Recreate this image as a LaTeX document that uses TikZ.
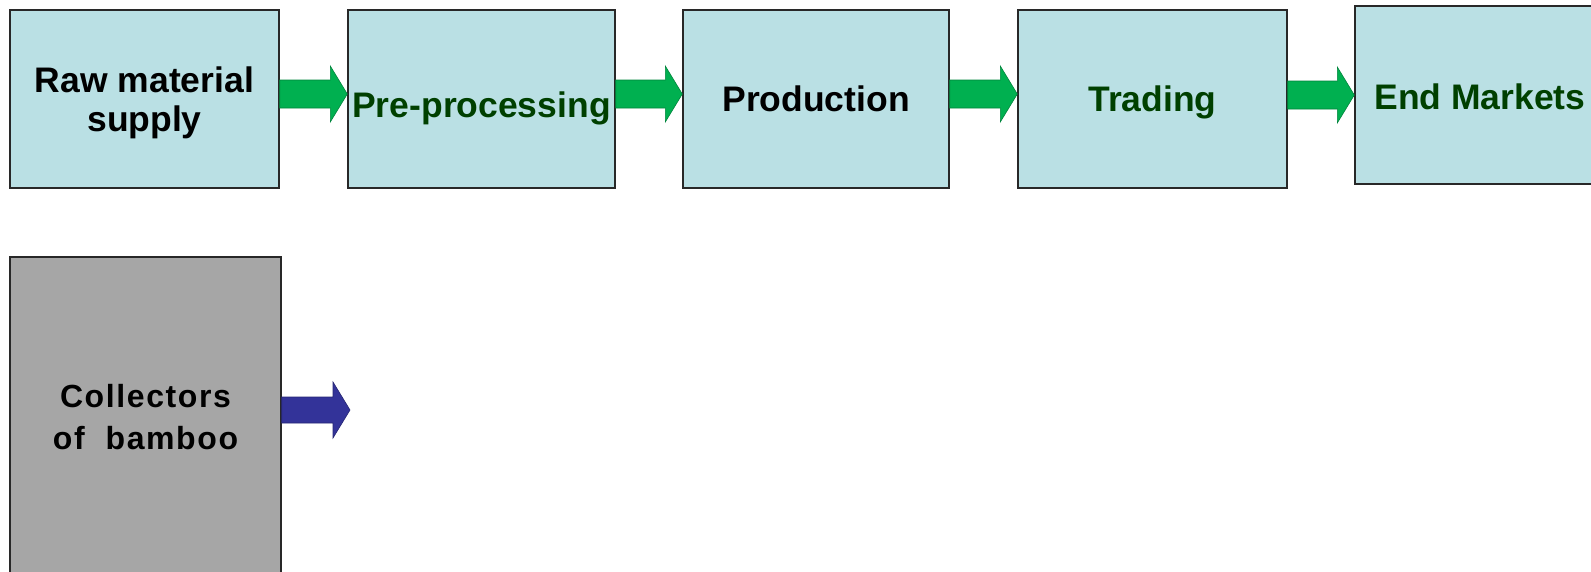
\documentclass[tikz,border=0pt]{standalone}
\usepackage{fontspec}
\setmainfont{Liberation Sans}
\newfontfamily\spacedfont[LetterSpace=5]{Liberation Sans}
\usetikzlibrary{calc}
\definecolor{boxblue}{RGB}{186,224,228}
\definecolor{boxgray}{RGB}{166,166,166}
\definecolor{arrgreen}{RGB}{0,176,80}
\definecolor{arrblue}{RGB}{51,51,153}
\definecolor{txtgreen}{RGB}{0,64,0}
\definecolor{edgegray}{RGB}{40,40,40}
\tikzset{
  stagebox/.style={draw=edgegray, line width=1.4pt, fill=boxblue, minimum height=178pt,
    inner sep=0pt, align=center, font=\fontsize{35.5}{39}\selectfont\bfseries},
  greentext/.style={text=txtgreen},
  fatarrow/.style={fill=#1, draw=#1!75!black, line width=0.6pt},
}
\newcommand\blockarrow[5]{% from, to, y centre, colour, shaft half height
  \path[fatarrow=#4]
    (#1 |- 0,#3-#5) -- ($(#2 |- 0,#3-#5)+(-17,0)$) -- ($(#2 |- 0,#3-28)+(-17,0)$)
    -- (#2 |- 0,#3) -- ($(#2 |- 0,#3+28)+(-17,0)$) -- ($(#2 |- 0,#3+#5)+(-17,0)$)
    -- (#1 |- 0,#3+#5) -- cycle;}
\begin{document}
\begin{tikzpicture}[x=1pt,y=-1pt]
\useasboundingbox (0,0) rectangle (1591,571);
\clip (0,0) rectangle (1591,571);
\node[stagebox, minimum width=269pt, text depth=0pt] (raw) at (144.5,99) {Raw material\\supply};
\node[stagebox, greentext, minimum width=267pt, text height=36pt, text depth=0pt] (pre) at (481.5,99) {Pre-processing};
\node[stagebox, minimum width=266pt] (prod) at (816,99) {Production};
\node[stagebox, greentext, minimum width=269pt, text depth=0pt] (trade) at (1152.5,99) {Trading};
\node[stagebox, greentext, minimum width=250pt, text height=28pt, text depth=0pt] (endm) at (1480,95) {End Markets};
\node[stagebox, fill=boxgray, minimum width=271pt, minimum height=320pt, text depth=0pt,
  font=\fontsize{32}{42}\spacedfont\bfseries] (coll) at (145.5,417) {Collectors\\of~~bamboo};
\coordinate (bluetip) at (350,410);
\blockarrow{raw.east}{pre.west}{94}{arrgreen}{14}
\blockarrow{pre.east}{prod.west}{94}{arrgreen}{14}
\blockarrow{prod.east}{trade.west}{94}{arrgreen}{14}
\blockarrow{trade.east}{endm.west}{95}{arrgreen}{14}
\blockarrow{coll.east}{bluetip}{410}{arrblue}{13}
\end{tikzpicture}
\end{document}
